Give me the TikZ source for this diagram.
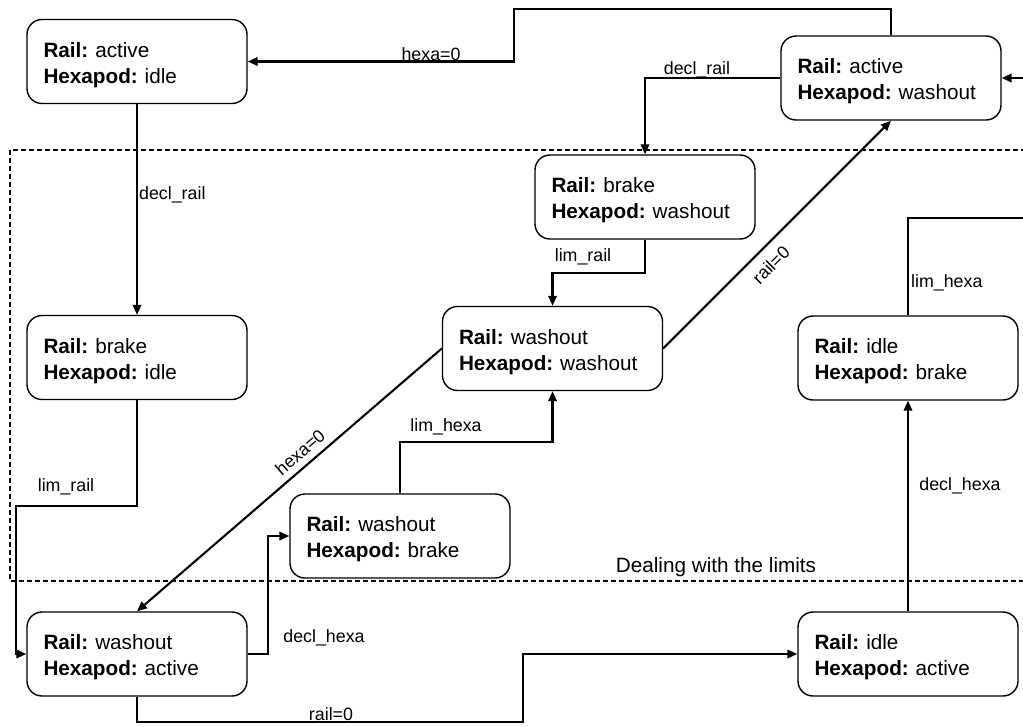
\documentclass[tikz,border=0pt]{standalone}
\usepackage{fontspec}
\setmainfont{Liberation Sans}
\usetikzlibrary{arrows.meta}
\newcommand\statetext[2]{\rule{0pt}{22pt}\textbf{Rail:} #1\\\textbf{Hexapod:} #2}
\begin{document}
\frenchspacing
\begin{tikzpicture}[x=1pt,y=-1pt,
  state/.style={draw, line width=1.4pt, rounded corners=15pt, fill=white,
    minimum width=220pt, minimum height=84pt, text width=187pt, inner xsep=16.5pt, inner ysep=0pt,
    align=left, font=\fontsize{20.7pt}{26pt}\selectfont},
  arr/.style={line width=2.1pt, -{Triangle[length=10pt,width=8.5pt]}},
  lbl/.style={font=\fontsize{17.8pt}{20pt}\selectfont, inner sep=0pt},
  region/.style={line width=1.4pt, dash pattern=on 5pt off 3pt}
]
\clip (0,0) rectangle (1023,726);
\fill[white] (0,0) rectangle (1023,726);

\draw[region] (10,150) rectangle (1035,581);
\node[font=\fontsize{20.7pt}{25pt}\selectfont, inner sep=0pt] (lim) at (716,567) {Dealing with the limits};

\node[state] (A) at (137,61.5) {\statetext{active}{idle}};
\node[state] (B) at (891,78) {\statetext{active}{washout}};
\node[state] (C) at (645,197) {\statetext{brake}{washout}};
\node[state] (D) at (552.5,348.5) {\statetext{washout}{washout}};
\node[state] (E) at (137,357.5) {\statetext{brake}{idle}};
\node[state] (F) at (908,358) {\statetext{idle}{brake}};
\node[state] (G) at (400,536) {\statetext{washout}{brake}};
\node[state] (H) at (137,654) {\statetext{washout}{active}};
\node[state] (I) at (908,654) {\statetext{idle}{active}};

\coordinate (e1) at (137,506);
\coordinate (e2) at (16,506);
\coordinate (hg) at (268,595);
\coordinate (h1) at (137,722);
\coordinate (h2) at (523,722);
\coordinate (f1) at (908,218);
\coordinate (f2) at (1030,218);
\coordinate (f3) at (1030,78);
\coordinate (b1) at (891,9);
\coordinate (b2) at (514,9);
\coordinate (c1) at (645,273);
\coordinate (g1) at (400,442);

\draw[arr] (A) -- (E);
\draw[arr] (E.south) -- (e1) -- (e2) |- (H.west);
\draw[arr] (H.east) -| (hg) |- (G.west);
\draw[arr] (H.south) -- (h1) -- (h2) |- (I.west);
\draw[arr] (I) -- (F);
\draw[arr] (F.north) -- (f1) -- (f2) -- (f3) -- (B.east);
\draw[arr] (B.north) -- (b1) -- (b2) |- (A.east);
\draw[arr] (B.west) -| (C.north);
\draw[arr] (C.south) -- (c1) -| (D.north);
\draw[arr] (D.east) -- (B.south);
\draw[arr] (D.west) -- (H.north);
\draw[arr] (G.north) -- (g1) -| (D.south);

\node[lbl, anchor=west] (l1) at (139,195) {decl\_rail};
\node[lbl] (l2) at (66,487) {lim\_rail};
\node[lbl] (l3) at (324,638) {decl\_hexa};
\node[lbl] (l4) at (331,714) {rail=0};
\node[lbl] (l5) at (960,486) {decl\_hexa};
\node[lbl, anchor=west] (l6) at (911,283) {lim\_hexa};
\node[lbl] (l7) at (431,54) {hexa=0};
\node[lbl] (l8) at (697,70) {decl\_rail};
\node[lbl] (l9) at (583,257) {lim\_rail};
\node[lbl, rotate=45] (l10) at (771,265) {rail=0};
\node[lbl, rotate=40.8] (l11) at (300,452) {hexa=0};
\node[lbl] (l12) at (446,427) {lim\_hexa};
\end{tikzpicture}
\end{document}
